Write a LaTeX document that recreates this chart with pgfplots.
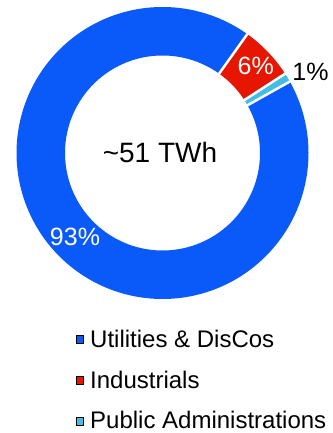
\documentclass[border=0pt]{standalone}
\usepackage{pgfplots}
\pgfplotsset{compat=1.18}
\usepackage{fontspec}
\setmainfont{Liberation Sans}
\definecolor{ublue}{RGB}{10,90,250}
\definecolor{ired}{RGB}{230,22,0}
\definecolor{pblue}{RGB}{64,190,230}
% data (percent shares)
\def\vU{93}\def\vI{6}\def\vP{1}
\def\startang{29.3}
\pgfmathsetmacro{\aU}{\startang-3.6*\vU}
\pgfmathsetmacro{\aI}{\aU-3.6*\vI}
\pgfmathsetmacro{\aP}{\aI-3.6*\vP}
\begin{document}
\begin{tikzpicture}
\begin{axis}[name=ax, width=333bp, height=433bp, scale only axis,
  xmin=-162.5, xmax=170.5, ymin=-280, ymax=153, hide axis, clip=false,
  legend image code/.code={\fill[#1] (0bp,4bp) rectangle (7.6bp,11.6bp);},
  legend style={draw=none, fill=none, inner sep=0pt, outer sep=0pt,
    at={(axis cs:-86.8,-275.8)}, anchor=south west,
    row sep=23.3bp, column sep=6.5bp,
    font=\fontsize{24bp}{28bp}\selectfont,
    cells={anchor=base west},
    nodes={inner sep=0pt, text height=17.5bp, text depth=0bp}},
]
% wedges
\addplot[draw=ublue, line width=48.5bp, domain=\aU:\startang, samples=300, forget plot] ({121.75*cos(x)},{121.75*sin(x)});
\addplot[draw=ired, line width=48.5bp, domain=\aI:\aU, samples=40, forget plot] ({121.75*cos(x)},{121.75*sin(x)});
\addplot[draw=pblue, line width=48.5bp, domain=\aP:\aI, samples=10, forget plot] ({121.75*cos(x)},{121.75*sin(x)});
% separators
\addplot[white, line width=2.5bp, domain=90:155, samples=2, forget plot] ({x*cos(\aU)},{x*sin(\aU)});
\addplot[white, line width=2.5bp, domain=90:155, samples=2, forget plot] ({x*cos(\aI)},{x*sin(\aI)});
\addplot[white, line width=2.5bp, domain=90:155, samples=2, forget plot] ({x*cos(\startang)},{x*sin(\startang)});
% legend
\addlegendimage{fill=ublue}
\addlegendentry{Utilities \& DisCos}
\addlegendimage{fill=ired}
\addlegendentry{Industrials}
\addlegendimage{fill=pblue}
\addlegendentry{Public Administrations}
% labels
\node[anchor=base, font=\fontsize{28bp}{32bp}\selectfont] at (axis cs:-2.5,-9.3) {\textasciitilde 51 TWh};
\node[anchor=base, text=white, font=\fontsize{25bp}{30bp}\selectfont, inner sep=0pt] at (axis cs:-87.5,-93) {93\%};
\node[anchor=base, text=white, font=\fontsize{25bp}{30bp}\selectfont, inner sep=0pt] at (axis cs:93.3,78.7) {6\%};
\node[anchor=base, text=black, font=\fontsize{25bp}{30bp}\selectfont, inner sep=0pt] at (axis cs:148,72) {1\%};
\end{axis}
\pgfresetboundingbox
\useasboundingbox (ax.south west) rectangle (ax.north east);
\end{tikzpicture}
\end{document}
